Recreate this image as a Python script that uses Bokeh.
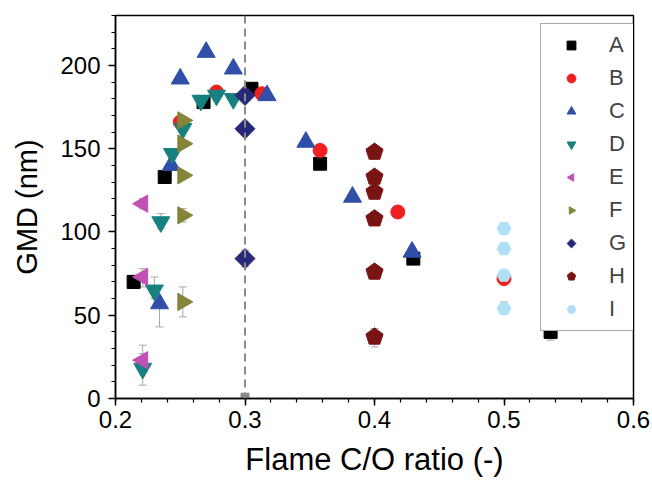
import math
from bokeh.plotting import figure
from bokeh.models import Range1d, FixedTicker, Span, Whisker, ColumnDataSource, Legend, LegendItem, TeeHead
from bokeh.embed import file_html
from bokeh.resources import INLINE

# ---- data ----
A_x = [0.214, 0.238, 0.268, 0.305, 0.358, 0.430, 0.536]
A_y = [70, 133, 178, 186, 141, 84, 40]
B_x = [0.250, 0.278, 0.313, 0.358, 0.418, 0.500]
B_y = [166, 184, 183, 149, 112, 72]
C_x = [0.234, 0.243, 0.250, 0.270, 0.291, 0.317, 0.347, 0.383, 0.429]
C_y = [57, 140, 192, 208, 198, 182, 154, 121, 88]
D_x = [0.221, 0.230, 0.235, 0.244, 0.252, 0.266, 0.278, 0.291]
D_y = [18, 65, 106, 147, 162, 179, 182, 180]
E_x = [0.221, 0.221, 0.221]
E_y = [23, 73, 117]
F_x = [0.252, 0.252, 0.252, 0.252, 0.252]
F_y = [58, 110, 134, 153, 167]
G_x = [0.300, 0.300, 0.300]
G_y = [84, 162, 182]
H_x = [0.400, 0.400, 0.400, 0.400, 0.400, 0.400]
H_y = [37, 76, 108, 124, 133, 148]
I_x = [0.500, 0.500, 0.500, 0.500]
I_y = [54, 74, 90, 102]

# error bars (x, lower, upper)
err_x = [0.214, 0.536, 0.221, 0.221, 0.252, 0.234, 0.221, 0.230, 0.221, 0.235, 0.252, 0.300, 0.400, 0.500, 0.500, 0.500, 0.500]
err_lo = [66, 35, 8, 16, 49, 43, 67, 60, 114, 102, 106, 79, 31, 51, 71, 87, 99]
err_hi = [74, 44, 27, 32, 67, 57, 78, 73, 120, 111, 114, 89, 42, 58, 77, 93, 105]

x_ticks = [0.2, 0.3, 0.4, 0.5, 0.6]
y_ticks = [0, 50, 100, 150, 200]
ref_x = 0.3
labels = ["A", "B", "C", "D", "E", "F", "G", "H", "I"]

FONT = "Liberation Sans"

p = figure(width=652, height=487, output_backend="svg", toolbar_location=None,
           x_range=Range1d(0.2, 0.6), y_range=Range1d(0, 230),
           min_border_left=115, min_border_right=19, min_border_top=15, min_border_bottom=89)
p.background_fill_color = "white"
p.border_fill_color = "white"
p.grid.visible = False
p.outline_line_color = "black"
p.outline_line_width = 1.5

p.xaxis.ticker = FixedTicker(ticks=x_ticks, minor_ticks=[round(0.2 + 0.02 * i, 3) for i in range(21)])
p.yaxis.ticker = FixedTicker(ticks=y_ticks, minor_ticks=list(range(0, 231, 10)))
p.xaxis.major_label_overrides = {t: f"{t:.1f}" for t in x_ticks}
for ax in (p.xaxis[0], p.yaxis[0]):
    ax.axis_line_width = 1.5
    ax.major_tick_line_width = 1.5
    ax.minor_tick_line_width = 1.2
    ax.major_tick_out = 7
    ax.major_tick_in = 0
    ax.minor_tick_out = 4
    ax.minor_tick_in = 0
    ax.major_label_text_font = FONT
    ax.major_label_text_font_size = "24px"
    ax.major_label_text_color = "black"
    ax.axis_label_text_font = FONT
    ax.axis_label_text_font_style = "normal"
    ax.axis_label_text_color = "black"
p.xaxis.axis_label_text_font_size = "31px"
p.yaxis.axis_label_text_font_size = "29px"
p.xaxis.major_label_standoff = 5
p.yaxis.major_label_standoff = 8
p.xaxis.axis_label_standoff = 11
p.yaxis.axis_label_standoff = 14
p.xaxis.axis_label = "Flame C/O ratio (-)"
p.yaxis.axis_label = "GMD (nm)"

p.add_layout(Span(location=ref_x, dimension="height", line_color="#8a8a8a", line_width=2, line_dash="8 5"))
p.scatter([ref_x], [0.8], marker="square", size=8, color="#888888")

esrc = ColumnDataSource(dict(x=err_x, lo=err_lo, hi=err_hi))
p.add_layout(Whisker(source=esrc, base="x", lower="lo", upper="hi", line_color="#a8a8a8", line_width=1,
                     upper_head=TeeHead(size=8, line_color="#a8a8a8"), lower_head=TeeHead(size=8, line_color="#a8a8a8")))

rA = p.scatter(A_x, A_y, marker="square", size=13, color="black")
rB = p.scatter(B_x, B_y, marker="circle", size=14, color="#f02020")
rC = p.scatter(C_x, C_y, marker="triangle", size=18, color="#2f4fa8")
rD = p.scatter(D_x, D_y, marker="inverted_triangle", size=18, color="#178080")
rE = p.ngon(E_x, E_y, radius=10, radius_units="screen", n=3, angle=math.pi / 2, fill_color="#c050b4", line_color="#c050b4")
rF = p.ngon(F_x, F_y, radius=10, radius_units="screen", n=3, angle=-math.pi / 2, fill_color="#84843a", line_color="#84843a")
rG = p.ngon(G_x, G_y, radius=10, radius_units="screen", n=4, angle=0, fill_color="#28287a", line_color="#28287a")
rH = p.ngon(H_x, H_y, radius=9, radius_units="screen", n=5, angle=0, fill_color="#7a1414", line_color="#7a1414")
rI = p.scatter(I_x, I_y, marker="hex", size=14, color="#b0e0f6")

items = [LegendItem(label=l, renderers=[r]) for l, r in zip(labels, [rA, rB, rC, rD, rE, rF, rG, rH, rI])]
leg = Legend(items=items, location=(425, 67))
leg.label_text_font = FONT
leg.label_text_font_size = "22px"
leg.label_height = 22
leg.glyph_height = 22
leg.glyph_width = 44
leg.spacing = 7
leg.padding = 8
leg.label_standoff = 16
leg.border_line_color = "#555555"
leg.border_line_width = 1.5
leg.background_fill_alpha = 1
p.add_layout(leg)

open("out.html", "w").write(file_html(p, INLINE))
